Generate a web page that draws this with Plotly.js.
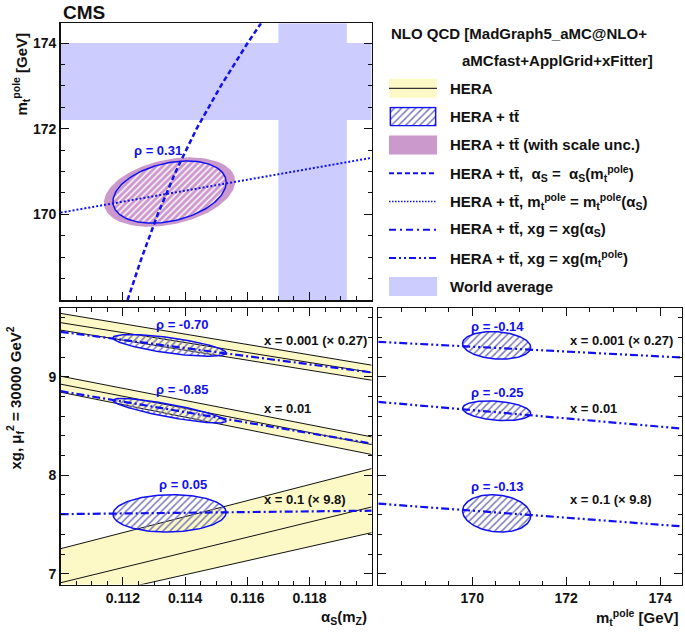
<!DOCTYPE html>
<html><head><meta charset="utf-8">
<script src="https://cdn.plot.ly/plotly-3.0.1.min.js"></script>
<style>html,body{margin:0;padding:0;background:#fff}#chart{width:685px;height:635px}</style>
</head><body><div id="chart"></div>
<script>
// ---------------- data ----------------
const alphaSRange = [0.110, 0.120];
const mtRange = [168.0, 174.46];
const xgRange = [6.89, 9.70];

const alphaSTicks = [0.112, 0.114, 0.116, 0.118];
const alphaSTickText = ['0.112', '0.114', '0.116', '0.118'];
const mtTicks = [170, 172, 174];
const xgTicks = [7, 8, 9];

// world average bands
const worldAlphaS = [0.1170, 0.1192];
const worldMt = [172.2, 174.0];

// HERA + ttbar fit (alpha_s, mt)
const fitAlphaS = [0.1135, 0.00182];      // centre, sigma
const fitMt = [170.52, 0.725];           // centre, sigma
const scaleAlphaS = [0.1135, 0.00211];   // with scale uncertainty
const scaleMt = [170.52, 0.81];
const rhoAlphaMt = 0.31;

// alpha_s = alpha_s(mt) line
const dashedAlphaS = [0.11215, 0.11261, 0.11312, 0.11370, 0.11437, 0.11515, 0.11601, 0.11644];
const dashedMt = [168.0, 169.0, 170.0, 171.0, 172.0, 173.0, 174.0, 174.46];
// mt = mt(alpha_s) line
const dottedAlphaS = [0.110, 0.120];
const dottedMt = [170.04, 171.32];

// gluon at x = 0.001, 0.01, 0.1
const xValues = ['0.001', '0.01', '0.1'];
const xScale = [' (\u00d7 0.27)', '', ' (\u00d7 9.8)'];
const heraAlphaS = [0.110, 0.120];
const heraUpper001 = [9.645, 9.119], heraCentral001 = [9.551, 9.045], heraLower001 = [9.475, 8.966];
const heraUpper01 = [9.007, 8.390], heraCentral01 = [8.926, 8.312], heraLower01 = [8.844, 8.211];
const heraUpper1 = [7.254, 8.068], heraCentral1 = [6.908, 7.678], heraLower1 = [6.704, 7.417];

const xgCentre = [9.32, 8.656, 7.613];
const xgSigmaVsAlphaS = [0.11, 0.125, 0.19];
const xgSigmaVsMt = [0.14, 0.10, 0.19];
const rhoAlphaXg = [-0.70, -0.85, 0.05];
const rhoMtXg = [-0.14, -0.25, -0.13];

// xg = xg(alpha_s) lines
const xgLineAlphaS = [0.110, 0.120];
const xgVsAlphaS001 = [9.458, 9.045], xgVsAlphaS01 = [8.855, 8.322], xgVsAlphaS1 = [7.605, 7.640];
// xg = xg(mt) lines
const xgLineMt = [168.0, 174.46];
const xgVsMt001 = [9.356, 9.197], xgVsMt01 = [8.746, 8.475], xgVsMt1 = [7.712, 7.481];

// ---------------- drawing ----------------
const FONT = 'Liberation Sans, Arial, Helvetica, sans-serif';
const W = 685, H = 635;
const px = v => v / W, py = v => 1 - v / H;
const BLUE = '#1010f0';
const YELLOW = '#fcf9c6';
const PURPLE = '#cc99cc';
const LAV = '#ccccff';
const HATCH = '#7b7bb8';

function ellipse(c1, c2, rho) {
  const xs = [], ys = [], n = 160, s = Math.sqrt(1 - rho * rho);
  for (let i = 0; i <= n; i++) {
    const t = 2 * Math.PI * i / n;
    xs.push(c1[0] + c1[1] * Math.cos(t));
    ys.push(c2[0] + c2[1] * (rho * Math.cos(t) + s * Math.sin(t)));
  }
  return {x: xs, y: ys};
}
function band(xs, lo, hi) {
  return {x: xs.concat(xs.slice().reverse()), y: hi.concat(lo.slice().reverse())};
}

const traces = [];
// top panel
traces.push({x: [worldAlphaS[0], worldAlphaS[1], worldAlphaS[1], worldAlphaS[0]], y: [mtRange[0], mtRange[0], mtRange[1], mtRange[1]],
  xaxis: 'x', yaxis: 'y', mode: 'lines', fill: 'toself', fillcolor: LAV, line: {width: 0}, hoverinfo: 'skip'});
traces.push({x: [alphaSRange[0], alphaSRange[1], alphaSRange[1], alphaSRange[0]], y: [worldMt[0], worldMt[0], worldMt[1], worldMt[1]],
  xaxis: 'x', yaxis: 'y', mode: 'lines', fill: 'toself', fillcolor: LAV, line: {width: 0}, hoverinfo: 'skip'});
const eScale = ellipse(scaleAlphaS, scaleMt, rhoAlphaMt);
traces.push({x: eScale.x, y: eScale.y, xaxis: 'x', yaxis: 'y', mode: 'lines', fill: 'toself', fillcolor: PURPLE, line: {width: 0}});
const eFit = ellipse(fitAlphaS, fitMt, rhoAlphaMt);
traces.push({x: eFit.x, y: eFit.y, xaxis: 'x', yaxis: 'y', mode: 'lines', fill: 'toself', fillcolor: 'rgba(0,0,0,0)',
  fillpattern: {shape: '/', fgcolor: 'rgba(255,255,255,0.9)', bgcolor: 'rgba(0,0,0,0)', size: 4.5, solidity: 0.35},
  line: {color: BLUE, width: 1.5}});
traces.push({x: dashedAlphaS, y: dashedMt, xaxis: 'x', yaxis: 'y', mode: 'lines',
  line: {color: BLUE, width: 2.5, dash: '5px,3px'}});
traces.push({x: dottedAlphaS, y: dottedMt, xaxis: 'x', yaxis: 'y', mode: 'lines',
  line: {color: BLUE, width: 2, dash: '2px,2px'}});

// bottom-left: HERA bands
const heraSets = [[heraUpper001, heraCentral001, heraLower001], [heraUpper01, heraCentral01, heraLower01], [heraUpper1, heraCentral1, heraLower1]];
heraSets.forEach(s => {
  const b = band(heraAlphaS, s[2], s[0]);
  traces.push({x: b.x, y: b.y, xaxis: 'x2', yaxis: 'y2', mode: 'lines', fill: 'toself', fillcolor: YELLOW, line: {width: 0}});
});
heraSets.forEach(s => {
  s.forEach(v => traces.push({x: heraAlphaS, y: v, xaxis: 'x2', yaxis: 'y2', mode: 'lines', line: {color: '#111', width: 1}}));
});
// ellipses vs alpha_s
for (let i = 0; i < 3; i++) {
  const e = ellipse(fitAlphaS, [xgCentre[i], xgSigmaVsAlphaS[i]], rhoAlphaXg[i]);
  traces.push({x: e.x, y: e.y, xaxis: 'x2', yaxis: 'y2', mode: 'lines', fill: 'toself', fillcolor: 'rgba(0,0,0,0)',
    fillpattern: {shape: '/', fgcolor: HATCH, bgcolor: 'rgba(0,0,0,0)', size: 5, solidity: 0.3},
    line: {color: BLUE, width: 1.5}});
}
[xgVsAlphaS001, xgVsAlphaS01, xgVsAlphaS1].forEach(v => traces.push({x: xgLineAlphaS, y: v, xaxis: 'x2', yaxis: 'y2', mode: 'lines',
  line: {color: BLUE, width: 2.2, dash: '8px,3px,2px,3px'}}));

// bottom-right: ellipses vs mt
for (let i = 0; i < 3; i++) {
  const e = ellipse(fitMt, [xgCentre[i], xgSigmaVsMt[i]], rhoMtXg[i]);
  traces.push({x: e.x, y: e.y, xaxis: 'x3', yaxis: 'y3', mode: 'lines', fill: 'toself', fillcolor: 'rgba(0,0,0,0)',
    fillpattern: {shape: '/', fgcolor: HATCH, bgcolor: 'rgba(0,0,0,0)', size: 5, solidity: 0.3},
    line: {color: BLUE, width: 1.5}});
}
[xgVsMt001, xgVsMt01, xgVsMt1].forEach(v => traces.push({x: xgLineMt, y: v, xaxis: 'x3', yaxis: 'y3', mode: 'lines',
  line: {color: BLUE, width: 2.2, dash: '8px,3px,2px,3px,2px,3px'}}));

// legend hatched swatch (auxiliary unit axes)
traces.push({x: [0, 1, 1, 0, 0], y: [0, 0, 1, 1, 0], xaxis: 'x4', yaxis: 'y4', mode: 'lines', fill: 'toself', fillcolor: 'rgba(0,0,0,0)',
  fillpattern: {shape: '/', fgcolor: HATCH, bgcolor: 'rgba(0,0,0,0)', size: 5, solidity: 0.3},
  line: {color: BLUE, width: 1.5}});

// ---------------- layout ----------------
const tickfont = {family: FONT, size: 14, color: '#111', weight: 'bold'};
function ax(extra) {
  return Object.assign({
    showgrid: false, zeroline: false, showline: true, linecolor: '#111', linewidth: 1.5,
    ticks: 'inside', ticklen: 8, tickwidth: 1, tickcolor: '#111', tickfont: tickfont, tickmode: 'array',
    fixedrange: true
  }, extra);
}
const minorX = {ticks: 'inside', ticklen: 4, tickwidth: 1, tickcolor: '#111', dtick: 0.0005, tick0: 0.110, showgrid: false};
const minorMt = {ticks: 'inside', ticklen: 4, tickwidth: 1, tickcolor: '#111', dtick: 0.5, tick0: 168, showgrid: false};
const minorXg = {ticks: 'inside', ticklen: 4, tickwidth: 1, tickcolor: '#111', dtick: 0.2, tick0: 7, showgrid: false};

const dL = [px(60.7), px(371.7)], dR = [px(378.3), px(681.7)];
const dTop = [py(300), py(23.3)], dBot = [py(584.5), py(308)];

const ann = [];
const txt = (text, x, y, o) => ann.push(Object.assign({text: text, x: x, y: y, xref: 'paper', yref: 'paper', showarrow: false,
  font: {family: FONT, size: 15, color: '#111', weight: 'bold'}, xanchor: 'left', yanchor: 'middle'}, o || {}));

txt('CMS', px(61), py(12), {font: {family: FONT, size: 19, color: '#111', weight: 'bold'}});
// axis titles
txt('m<sub>t</sub><sup>pole</sup> [GeV]', px(21), py(31), {textangle: -90, xanchor: 'center', yanchor: 'top'});
txt('xg, \u03bc<sub>f</sub><sup>2</sup> = 30000 GeV<sup>2</sup>', px(15), py(325), {textangle: -90, xanchor: 'center', yanchor: 'top'});
txt('\u03b1<sub>S</sub>(m<sub>Z</sub>)', px(369), py(617), {xanchor: 'right'});
txt('m<sub>t</sub><sup>pole</sup> [GeV]', px(681), py(617), {xanchor: 'right'});

// legend
txt('NLO QCD [MadGraph5_aMC@NLO+', px(389), py(33.3));
txt('aMCfast+ApplGrid+xFitter]', px(655), py(60), {xanchor: 'right'});
const TT = 'tt\u0304';
const legRows = [
  'HERA', 'HERA + ' + TT, 'HERA + ' + TT + ' (with scale unc.)',
  'HERA + ' + TT + ',  \u03b1<sub>S</sub> =  \u03b1<sub>S</sub>(m<sub>t</sub><sup>pole</sup>)',
  'HERA + ' + TT + ', m<sub>t</sub><sup>pole</sup> = m<sub>t</sub><sup>pole</sup>(\u03b1<sub>S</sub>)',
  'HERA + ' + TT + ', xg = xg(\u03b1<sub>S</sub>)',
  'HERA + ' + TT + ', xg = xg(m<sub>t</sub><sup>pole</sup>)',
  'World average'
];
const rowY = i => 88.3 + 28.3 * i;
legRows.forEach((t, i) => txt(t, px(447.5), py(rowY(i))));

const shapes = [];
const rect = (i, fill, line) => shapes.push({type: 'rect', xref: 'paper', yref: 'paper', x0: px(389), x1: px(437),
  y0: py(rowY(i) + 9.5), y1: py(rowY(i) - 9.5), fillcolor: fill, line: line || {width: 0}, layer: 'above'});
const hline = (i, color, width, dash) => shapes.push({type: 'line', xref: 'paper', yref: 'paper', x0: px(389), x1: px(437),
  y0: py(rowY(i)), y1: py(rowY(i)), line: {color: color, width: width, dash: dash}});
rect(0, YELLOW); hline(0, '#333', 1.2, 'solid');
rect(2, PURPLE);
hline(3, BLUE, 2, '5px,3px');
hline(4, BLUE, 1.5, '1.5px,1.5px');
hline(5, BLUE, 2, '7px,4px,2px,4px');
hline(6, BLUE, 2, '7px,3px,2px,3px,2px,3px');
rect(7, LAV);

// in-plot labels
const lab = (text, x, y, xr, yr, color, xanchor, size) => ann.push({text: text, x: x, y: y, xref: xr, yref: yr, showarrow: false,
  font: {family: FONT, size: size || 13, color: color, weight: 'bold'}, xanchor: xanchor, yanchor: 'middle'});
lab('\u03c1 = ' + rhoAlphaMt.toFixed(2), 0.11314, 171.50, 'x', 'y', BLUE, 'center');
const rhoLabY2 = [9.533, 8.872, 7.908];
const rhoLabY3 = [9.509, 8.841, 7.881];
const xLabY = [9.37, 8.679, 7.756];
for (let i = 0; i < 3; i++) {
  lab('\u03c1 = ' + rhoAlphaXg[i].toFixed(2), 0.11392, rhoLabY2[i], 'x2', 'y2', BLUE, 'center');
  lab('\u03c1 = ' + rhoMtXg[i].toFixed(2), 170.535, rhoLabY3[i], 'x3', 'y3', BLUE, 'center');
  lab('x = ' + xValues[i] + xScale[i], 0.11646, xLabY[i], 'x2', 'y2', '#111', 'left', 13);
  lab('x = ' + xValues[i] + xScale[i], 172.034, xLabY[i], 'x3', 'y3', '#111', 'left', 13);
}

const layout = {
  width: W, height: H, margin: {l: 0, r: 0, t: 0, b: 0},
  paper_bgcolor: '#fff', plot_bgcolor: '#fff', showlegend: false,
  xaxis: ax({domain: dL, anchor: 'y', range: alphaSRange, tickvals: alphaSTicks, showticklabels: false, mirror: true, minor: minorX}),
  yaxis: ax({domain: dTop, anchor: 'x', range: mtRange, tickvals: mtTicks, mirror: 'allticks', minor: minorMt}),
  xaxis2: ax({domain: dL, anchor: 'y2', range: alphaSRange, tickvals: alphaSTicks, ticktext: alphaSTickText, mirror: 'allticks', minor: minorX}),
  yaxis2: ax({domain: dBot, anchor: 'x2', range: xgRange, tickvals: xgTicks, mirror: 'allticks', minor: minorXg}),
  xaxis3: ax({domain: dR, anchor: 'y3', range: mtRange, tickvals: mtTicks, mirror: 'allticks', minor: minorMt}),
  yaxis3: ax({domain: dBot, anchor: 'x3', range: xgRange, tickvals: xgTicks, showticklabels: false, mirror: 'allticks', minor: minorXg}),
  xaxis4: {domain: [px(389), px(437)], anchor: 'y4', range: [-0.03, 1.03], visible: false, fixedrange: true},
  yaxis4: {domain: [py(rowY(1) + 10), py(rowY(1) - 10)], anchor: 'x4', range: [-0.05, 1.05], visible: false, fixedrange: true},
  annotations: ann, shapes: shapes
};

Plotly.newPlot('chart', traces, layout, {staticPlot: true});
</script></body></html>
